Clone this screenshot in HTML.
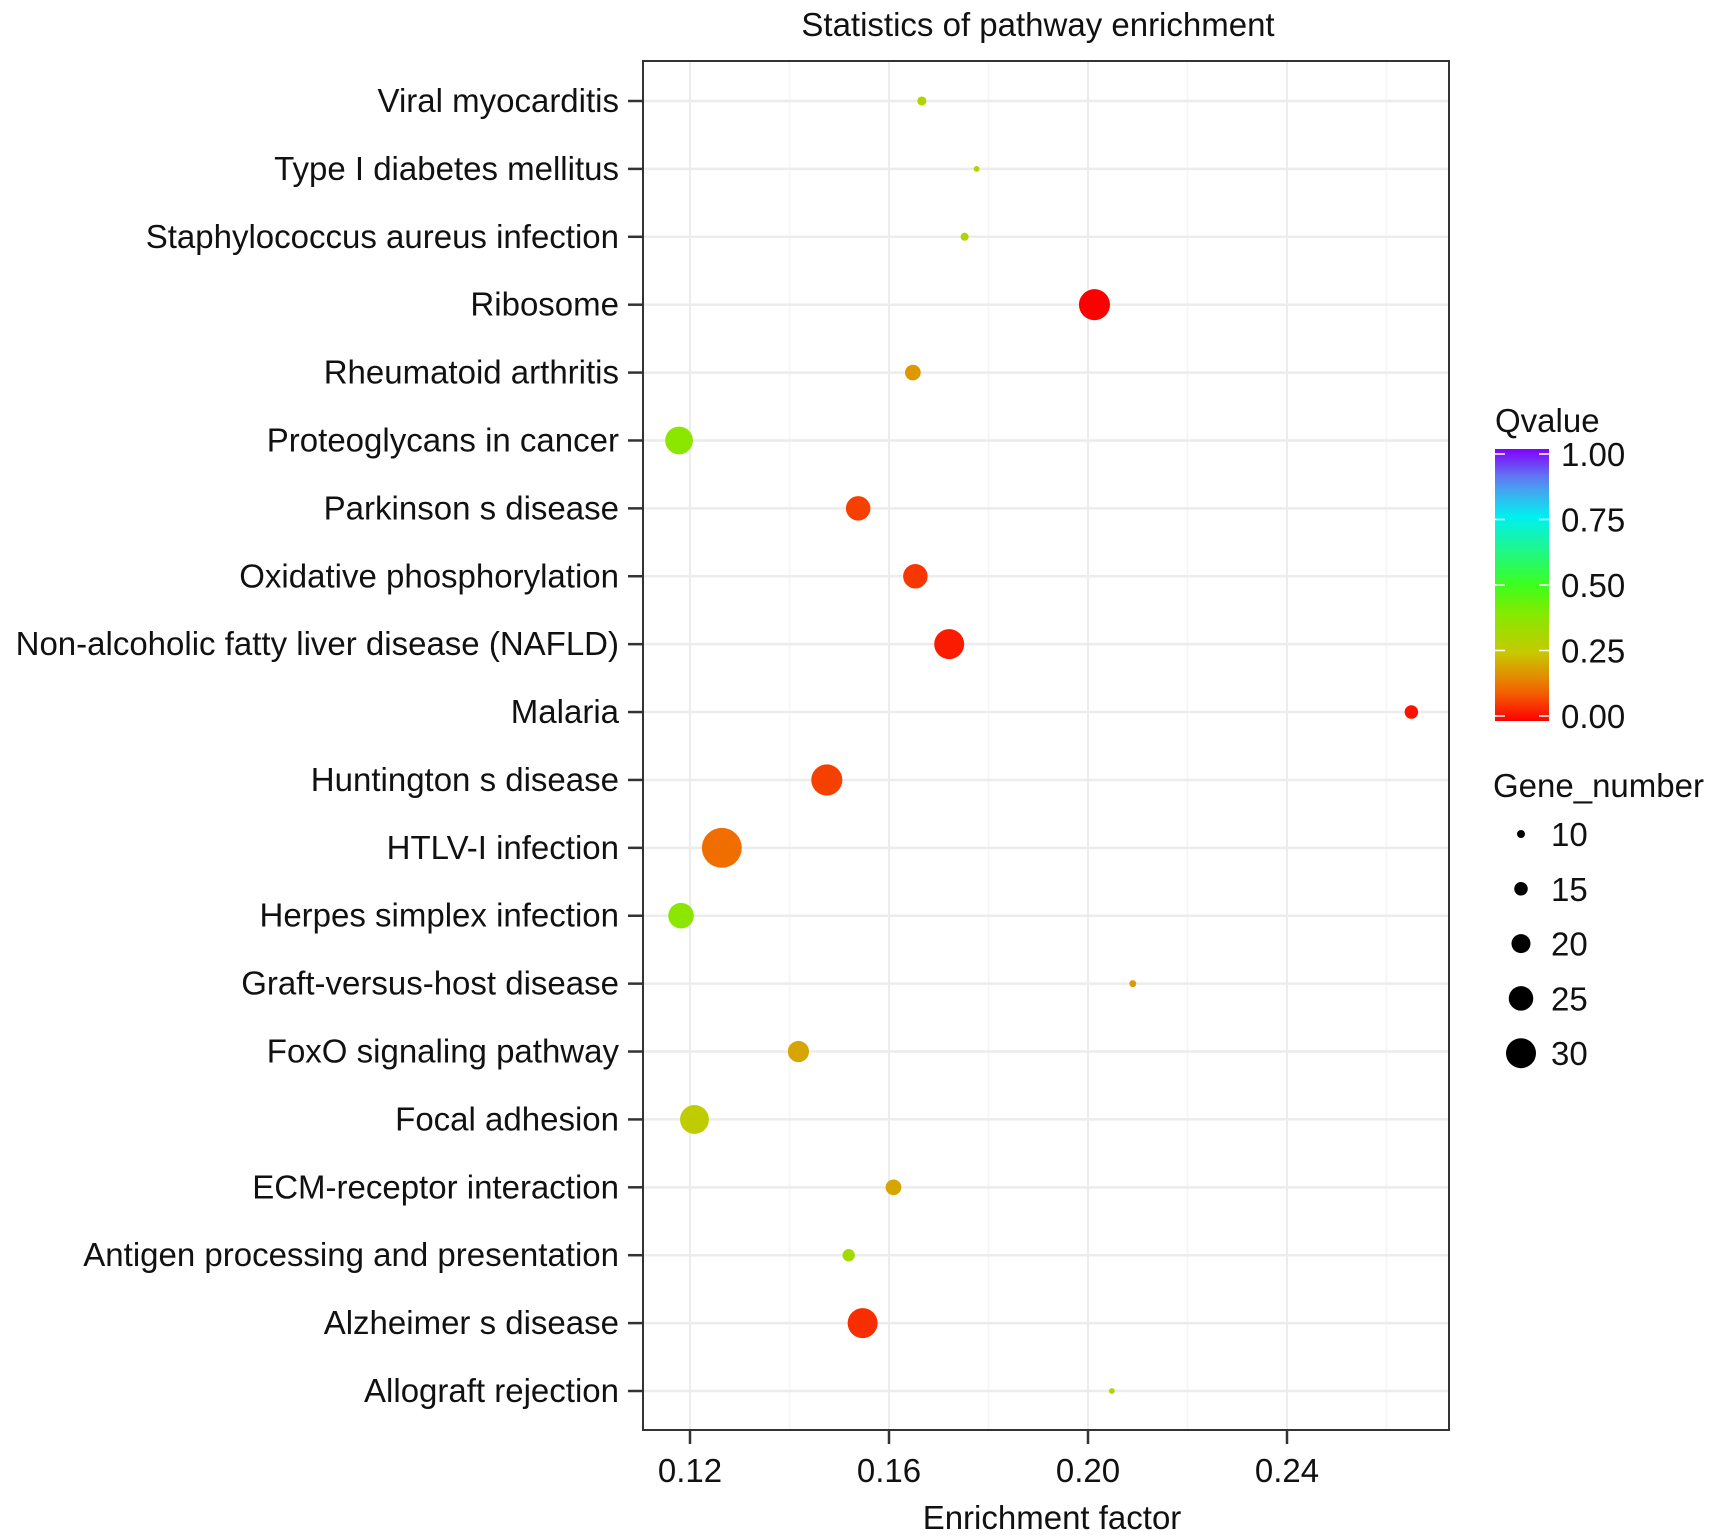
<!DOCTYPE html>
<html><head><meta charset="utf-8"><style>
html,body{margin:0;padding:0;background:#fff;}
svg{display:block;font-family:"Liberation Sans",Arial,sans-serif;}
</style></head><body>
<svg id="chart" width="1717" height="1540" viewBox="0 0 1717 1540" xmlns="http://www.w3.org/2000/svg">
<rect x="0" y="0" width="1717" height="1540" fill="#fff"/>
<text x="1038" y="36" font-size="33" text-anchor="middle" fill="#111">Statistics of pathway enrichment</text>
<g id="grid"></g>
<g id="points"></g>
<rect x="643" y="61" width="806" height="1369" fill="none" stroke="#333" stroke-width="2"/>
<g id="yaxis"></g>
<g id="xaxis"></g>
<text x="1052" y="1529" font-size="33" text-anchor="middle" fill="#111">Enrichment factor</text>
<g id="legend"></g>
</svg>
<script>
const categories = ["Viral myocarditis","Type I diabetes mellitus","Staphylococcus aureus infection","Ribosome","Rheumatoid arthritis","Proteoglycans in cancer","Parkinson s disease","Oxidative phosphorylation","Non-alcoholic fatty liver disease (NAFLD)","Malaria","Huntington s disease","HTLV-I infection","Herpes simplex infection","Graft-versus-host disease","FoxO signaling pathway","Focal adhesion","ECM-receptor interaction","Antigen processing and presentation","Alzheimer s disease","Allograft rejection"];
const enrichment = [0.1666,0.1776,0.1752,0.2013,0.1648,0.1178,0.1538,0.1653,0.1721,0.2650,0.1475,0.1264,0.1182,0.2090,0.1418,0.1209,0.1609,0.1519,0.1547,0.2048];
const geneNumber = [11,8,10,31,17,28,25,25,30,15,31,39,26,9,22,29,17,14,30,8];
const qvalue = [0.30,0.30,0.30,0.00,0.18,0.38,0.07,0.06,0.03,0.02,0.07,0.12,0.38,0.18,0.20,0.27,0.20,0.33,0.05,0.30];
const xTicks = [0.12,0.16,0.20,0.24];
const xTickLabels = ["0.12","0.16","0.20","0.24"];
const xMinor = [0.14,0.18,0.22,0.26];
const qTicks = [1.00,0.75,0.50,0.25,0.00];
const qTickLabels = ["1.00","0.75","0.50","0.25","0.00"];
const sizeKeys = [10,15,20,25,30];

const NS="http://www.w3.org/2000/svg";
const P={l:643,r:1449,t:61,b:1430};
function xScale(v){return 690+(v-0.12)*4975;}
function yScale(i){return 101+i*(1391-101)/(categories.length-1);}
function rScale(n){return Math.max(2,0.55*n-1.5);}
const stops=[[0,[255,0,0]],[0.12,[240,110,0]],[0.25,[200,200,0]],[0.40,[130,235,0]],[0.5,[60,255,30]],[0.75,[0,240,240]],[0.88,[90,140,240]],[1,[130,0,255]]];
function qColor(q){for(let i=1;i<stops.length;i++){if(q<=stops[i][0]){const a=stops[i-1],b=stops[i];const t=(q-a[0])/(b[0]-a[0]);const c=a[1].map((v,k)=>Math.round(v+(b[1][k]-v)*t));return `rgb(${c.join(',')})`;}}return 'rgb(130,0,255)';}
function mk(tag,attrs,parent){const e=document.createElementNS(NS,tag);for(const k in attrs)e.setAttribute(k,attrs[k]);parent.appendChild(e);return e;}

const grid=document.getElementById('grid');
xMinor.forEach(v=>{const x=xScale(v);if(x<P.r){const l=mk('line',{x1:x,x2:x,y1:P.t,y2:P.b,stroke:'#f5f5f5','stroke-width':1.5},grid);

}});
xTicks.forEach(v=>{const x=xScale(v);const l=mk('line',{x1:x,x2:x,y1:P.t,y2:P.b,stroke:'#ececec','stroke-width':2},grid);

});
categories.forEach((c,i)=>{const y=yScale(i);const l=mk('line',{x1:P.l,x2:P.r,y1:y,y2:y,stroke:'#ececec','stroke-width':2.5},grid);

});

const pts=document.getElementById('points');
categories.forEach((c,i)=>{const e=mk('circle',{cx:xScale(enrichment[i]),cy:yScale(i),r:rScale(geneNumber[i]),fill:qColor(qvalue[i])},pts);

});

const ya=document.getElementById('yaxis');
categories.forEach((c,i)=>{const y=yScale(i);const t=mk('line',{x1:628,x2:643,y1:y,y2:y,stroke:'#333','stroke-width':2.5},ya);


const tx=mk('text',{x:619,y:y+11,'font-size':33,'text-anchor':'end',fill:'#111'},ya);tx.textContent=c;

});

const xa=document.getElementById('xaxis');
xTicks.forEach((v,i)=>{const x=xScale(v);const t=mk('line',{x1:x,x2:x,y1:P.b,y2:P.b+14,stroke:'#333','stroke-width':2.5},xa);


const tx=mk('text',{x:x,y:1482,'font-size':33,'text-anchor':'middle',fill:'#111'},xa);tx.textContent=xTickLabels[i];

});

const lg=document.getElementById('legend');
const t1=mk('text',{x:1495,y:432,'font-size':33,fill:'#111'},lg);t1.textContent='Qvalue';


const defs=mk('defs',{},lg);const gr=mk('linearGradient',{id:'qg',x1:0,y1:1,x2:0,y2:0},defs);
for(let i=0;i<=20;i++){const q=i/20;mk('stop',{offset:q,'stop-color':qColor(q)},gr);}
const cbTop=449,cbBot=721;
const cb=mk('rect',{x:1495,y:cbTop,width:54,height:cbBot-cbTop,fill:'url(#qg)'},lg);


qTicks.forEach((q,i)=>{const y=cbBot-q*(cbBot-cbTop-10)-5;
mk('line',{x1:1495,x2:1505,y1:y,y2:y,stroke:'#fff','stroke-width':1.5},lg);
mk('line',{x1:1539,x2:1549,y1:y,y2:y,stroke:'#fff','stroke-width':1.5},lg);
const tx=mk('text',{x:1561,y:y+12,'font-size':33,fill:'#111'},lg);tx.textContent=qTickLabels[i];

});
const t2=mk('text',{x:1493,y:797,'font-size':33,fill:'#111'},lg);t2.textContent='Gene_number';


sizeKeys.forEach((n,i)=>{const y=834+i*54.8;const c=mk('circle',{cx:1521,cy:y,r:rScale(n),fill:'#000'},lg);


const tx=mk('text',{x:1551,y:y+12,'font-size':33,fill:'#111'},lg);tx.textContent=String(n);

});
</script>
</body></html>
